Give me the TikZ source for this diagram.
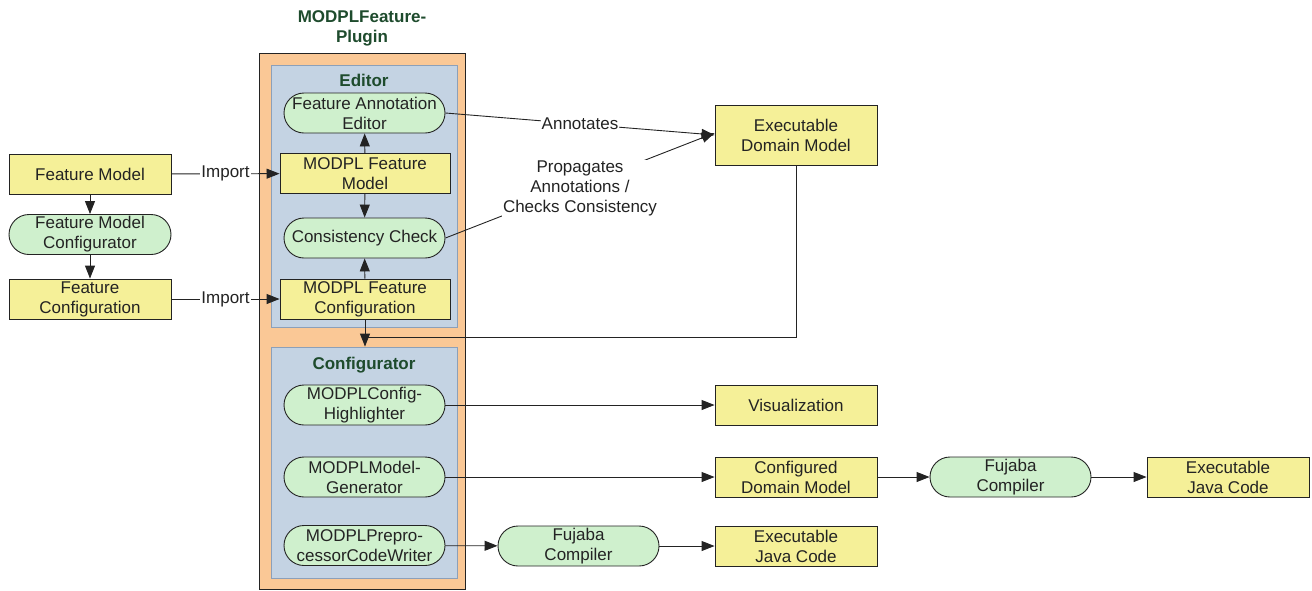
\documentclass[tikz,border=0pt]{standalone}
\usepackage{fontspec}
\setmainfont{Liberation Sans}
\usetikzlibrary{arrows.meta}
\definecolor{boxyellow}{RGB}{245,240,152}
\definecolor{procgreen}{RGB}{207,240,205}
\definecolor{peach}{RGB}{250,200,150}
\definecolor{panelblue}{RGB}{196,211,227}
\definecolor{panelrim}{RGB}{140,160,185}
\definecolor{titlegreen}{RGB}{30,75,45}
\definecolor{ink}{RGB}{35,35,35}
\begin{document}
\begin{tikzpicture}[x=1pt,y=-1pt,
  color=ink,
  font=\fontsize{17}{20}\selectfont,
  line width=0.9pt,
  arr/.style={-{Triangle[length=13pt,width=10pt]}},
  block/.style={draw=ink, fill=boxyellow, minimum width=162pt, minimum height=40pt, inner sep=0pt, align=center},
  inblock/.style={block, minimum width=170pt},
  proc/.style={draw=ink, fill=procgreen, rounded corners=20pt, minimum width=161pt, minimum height=40pt, inner sep=0pt, align=center},
  panel/.style={draw=panelrim, fill=panelblue, minimum width=186pt, inner sep=0pt},
  paneltitle/.style={font=\fontsize{17}{20}\selectfont\bfseries, text=titlegreen},
  lbl/.style={fill=white, inner sep=1pt, align=center}
]
\useasboundingbox (0,0) rectangle (1312,590);

% plugin frame and its two panels
\node[draw=ink, fill=peach, minimum width=206pt, minimum height=536pt, inner sep=0pt] (plugin) at (362,321.5) {};
\node[paneltitle, align=center] (plugintitle) at (362,28) {MODPLFeature-\\Plugin};
\node[panel, minimum height=262pt] (editor) at (364,196) {};
\node[paneltitle] (editortitle) at (364,80) {Editor};
\node[panel, minimum height=231pt] (configurator) at (364,462.5) {};
\node[paneltitle] (conftitle) at (364,365) {Configurator};

% editor contents
\node[proc] (fae) at (364.5,113) {Feature Annotation\\Editor};
\node[inblock] (mfm) at (365,173.5) {MODPL Feature\\Model};
\node[proc] (cc) at (364.5,238) {Consistency Check};
\node[inblock] (mfc) at (365,299) {MODPL Feature\\Configuration};

% configurator contents
\node[proc] (hl) at (364.5,405) {MODPLConfig-\\Highlighter};
\node[proc] (gen) at (364.5,477) {MODPLModel-\\Generator};
\node[proc] (cw) at (364.5,545.5) {MODPLPrepro-\\cessorCodeWriter};

% left column
\node[block] (fm) at (90,174) {Feature Model};
\node[proc, minimum width=162pt] (fmc) at (90,234.5) {Feature Model\\Configurator};
\node[block] (fc) at (90,299) {Feature\\Configuration};

% right side
\node[block, minimum height=60pt] (edm) at (796,135) {Executable\\Domain Model};
\node[block] (vis) at (796,405) {Visualization};
\node[block] (cdm) at (796,477) {Configured\\Domain Model};
\node[proc] (fuj1) at (578.5,546) {Fujaba\\Compiler};
\node[block] (ejc1) at (796,546) {Executable\\Java Code};
\node[proc] (fuj2) at (1010.5,477) {Fujaba\\Compiler};
\node[block] (ejc2) at (1228,477) {Executable\\Java Code};

% connectors on the left
\draw[arr] (fm) -- (fmc);
\draw[arr] (fmc) -- (fc);
\draw[arr] (fm) -- node[lbl] {Import} (mfm);
\draw[arr] (fc) -- node[lbl] {Import} (mfc);

% connectors inside the editor
\draw[arr] (mfm) -- (fae);
\draw[arr] (mfm) -- (cc);
\draw[arr] (mfc) -- (cc);

% editor to the domain model
\draw[arr] (fae.east) -- node[lbl, pos=0.5] {Annotates} (edm.west);
\draw[arr] (cc.east) -- node[lbl, pos=0.5, yshift=-3pt] {Propagates\\Annotations /\\Checks Consistency} ([yshift=2pt]edm.west);

% feeds into the configurator
\coordinate (join) at (365,337);
\draw (edm.south) |- (join);
\draw[arr] (mfc.south) -- (mfc.south |- configurator.north);

% configurator outputs
\draw[arr] (hl) -- (vis);
\draw[arr] (gen) -- (cdm);
\draw[arr] (cdm) -- (fuj2);
\draw[arr] (fuj2) -- (ejc2);
\draw[arr] (cw) -- (fuj1);
\draw[arr] (fuj1) -- (ejc1);
\end{tikzpicture}
\end{document}
